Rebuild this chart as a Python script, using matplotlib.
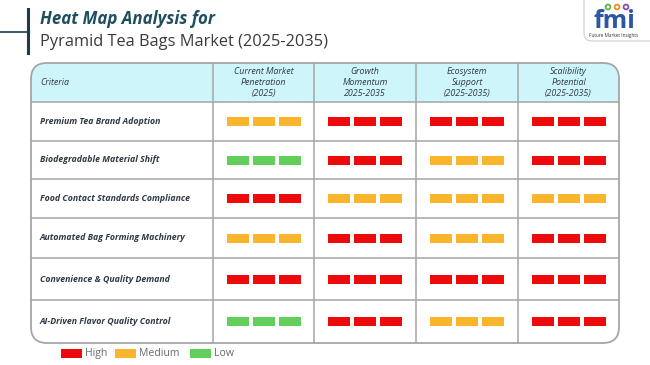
import matplotlib.pyplot as plt
from matplotlib.patches import Rectangle, FancyBboxPatch

# ---- data ----
criteria = [
    "Premium Tea Brand Adoption",
    "Biodegradable Material Shift",
    "Food Contact Standards Compliance",
    "Automated Bag Forming Machinery",
    "Convenience & Quality Demand",
    "AI-Driven Flavor Quality Control",
]
columns = [
    "Current Market\nPenetration\n(2025)",
    "Growth\nMomentum\n2025-2035",
    "Ecosystem\nSupport\n(2025-2035)",
    "Scalibility\nPotential\n(2025-2035)",
]
# H = High, M = Medium, L = Low
levels = [
    ["M", "H", "H", "H"],
    ["L", "H", "M", "H"],
    ["H", "M", "M", "M"],
    ["M", "H", "M", "H"],
    ["H", "H", "H", "H"],
    ["L", "H", "M", "H"],
]
legend_labels = ["High", "Medium", "Low"]
level_keys = ["H", "M", "L"]
level_colors = {"H": "#ee0a0a", "M": "#fbb52c", "L": "#62cf5a"}

# ---- layout (pixel coordinates) ----
W, H = 650, 365
col_edges = [31, 213, 314, 416, 518, 619]
row_edges = [63, 102, 141, 179, 218, 258, 300, 343]
grid_col = "#a6a6a6"
text_col = "#2f3a45"

plt.rcParams['font.family'] = ['Open Sans', 'DejaVu Sans']
fig = plt.figure(figsize=(6.5, 3.65), dpi=100)
ax = fig.add_axes([0, 0, 1, 1])
ax.set_xlim(0, W)
ax.set_ylim(H, 0)
ax.axis('off')

# title block
ax.plot([28, 28], [9, 53], color="#1d3b4a", lw=2.2)
ax.plot([0, 28], [32, 32], color="#1d3b4a", lw=1.2)
ax.text(40, 19, "Heat Map Analysis for", fontsize=12.2, fontweight='bold',
        style='italic', color="#1f4e5f", va='center')
ax.text(40, 42, "Pyramid Tea Bags Market (2025-2035)", fontsize=11.8,
        color="#3a3a3a", va='center')

# logo
logo = FancyBboxPatch((584, -12), 75, 53, boxstyle="round,pad=0,rounding_size=8",
                      fc='white', ec="#d0d0d0", lw=0.8)
ax.add_patch(logo)
ax.text(614, 28, "fmi", fontsize=18, fontweight='bold', color="#2b57a6",
        ha='center', va='baseline')
ax.text(614, 35.5, "Future Market Insights", fontsize=3.3, color="#333333",
        ha='center', va='center')
for dx, c in zip([-4, 5, 14], ["#5fb346", "#f08a24", "#8a4cae"]):
    ax.add_patch(plt.Circle((612 + dx, 7), 2.4, fc='white', ec=c, lw=1.3))

# header background and outer frame
x0, x1 = col_edges[0], col_edges[-1]
y0, y1 = row_edges[0], row_edges[-1]
ax.add_patch(FancyBboxPatch((x0, y0), x1 - x0, row_edges[1] - y0 + 12,
                            boxstyle="round,pad=0,rounding_size=16",
                            fc="#cdf5fa", ec='none', zorder=1))
ax.add_patch(Rectangle((x0, row_edges[1]), x1 - x0, y1 - row_edges[1] - 20,
                       fc='white', ec='none', zorder=1.5))
ax.add_patch(FancyBboxPatch((x0, row_edges[1] + 10), x1 - x0, y1 - row_edges[1] - 10,
                            boxstyle="round,pad=0,rounding_size=16",
                            fc='white', ec='none', zorder=1.5))
ax.add_patch(FancyBboxPatch((x0, y0), x1 - x0, y1 - y0,
                            boxstyle="round,pad=0,rounding_size=16",
                            fc='none', ec=grid_col, lw=1.3, zorder=4))

# grid lines
for x in col_edges[1:-1]:
    ax.plot([x, x], [y0, y1], color=grid_col, lw=1.1, zorder=3)
for y in row_edges[1:-1]:
    ax.plot([x0, x1], [y, y], color=grid_col, lw=1.1, zorder=3)

# header text
hy = (row_edges[0] + row_edges[1]) / 2
ax.text(40, hy, "Criteria", fontsize=6.4, style='italic', color=text_col,
        va='center', zorder=5)
for j, name in enumerate(columns):
    cx = (col_edges[j + 1] + col_edges[j + 2]) / 2
    ax.text(cx, hy, name, fontsize=6.4, style='italic', color=text_col,
            ha='center', va='center', linespacing=1.25, zorder=5)

# rows
bw, bh, gap = 22, 9, 4
for i, name in enumerate(criteria):
    cy = (row_edges[i + 1] + row_edges[i + 2]) / 2
    ax.text(40, cy, name, fontsize=6.3, style='italic', fontweight='bold',
            color=text_col, va='center', zorder=5)
    for j, lv in enumerate(levels[i]):
        cx = (col_edges[j + 1] + col_edges[j + 2]) / 2
        start = cx - (3 * bw + 2 * gap) / 2
        for k in range(3):
            ax.add_patch(Rectangle((start + k * (bw + gap), cy - bh / 2), bw, bh,
                                   fc=level_colors[lv], ec='none', zorder=5))

# legend
for lx, key, lab in zip([61, 115, 190], level_keys, legend_labels):
    ax.add_patch(Rectangle((lx, 349), 21, 8.5, fc=level_colors[key], ec='none'))
    ax.text(lx + 24, 353.5, lab, fontsize=7.6, color="#6a6a6a", va='center')

fig.savefig("out.png", dpi=100)
